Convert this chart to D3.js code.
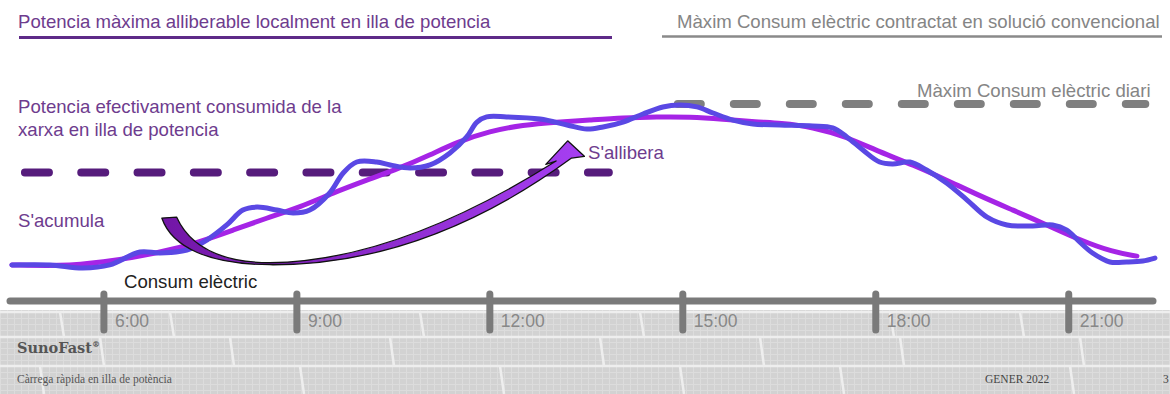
<!DOCTYPE html>
<html><head><meta charset="utf-8">
<script src="https://cdn.jsdelivr.net/npm/d3@7"></script>
<style>html,body{margin:0;padding:0;background:#fff;}svg{display:block;}</style>
</head><body>
<svg id="c" width="1170" height="394"></svg>
<script>
// ---- data (hours of day, relative power in % of daily max) ----
const tickHours = [6, 9, 12, 15, 18, 21];
const tickLabels = ["6:00", "9:00", "12:00", "15:00", "18:00", "21:00"];
const hourDomain = [4.54, 22.31];
const valueDomain = [0, 100];

// actual consumption (wavy)
const consumHours = [4.57,5.16,5.67,6.09,6.56,6.87,7.29,7.60,7.91,8.16,8.38,8.69,8.94,9.20,9.51,9.72,9.93,10.24,10.45,10.76,11.07,11.38,11.64,11.80,11.95,12.26,12.78,13.20,13.51,13.76,14.07,14.38,14.69,14.95,15.22,15.47,15.78,16.09,16.51,17.02,17.33,17.55,17.80,18.06,18.26,18.53,18.79,19.10,19.42,19.73,20.04,20.44,20.75,20.97,21.17,21.37,21.64,21.90,22.15,22.34];
const consumValues = [17.9,17.9,16.3,17.9,24.5,24.0,25.5,30.6,38.3,45.9,47.4,45.9,44.4,45.9,54.6,64.8,70.4,70.4,68.9,67.3,68.9,75.0,83.2,90.8,93.4,93.4,92.3,89.3,87.2,88.3,90.8,94.9,98.5,99.5,98.5,95.4,91.8,89.8,89.3,88.8,87.8,83.2,76.5,70.4,69.4,70.4,66.3,59.7,51.0,42.3,38.3,37.8,38.3,35.7,29.6,24.0,19.4,19.4,19.9,21.4];

// smoothed trend (magenta)
const trendHours = [4.57,5.32,5.94,6.87,7.49,8.01,8.53,9.05,9.56,10.09,10.60,11.07,11.49,12.00,12.51,13.04,13.55,14.07,14.60,15.11,15.62,16.15,16.51,17.02,17.55,18.06,18.58,19.10,19.62,20.13,20.66,21.17,21.68,22.06];
const trendValues = [17.9,17.3,18.9,24.0,29.6,35.7,41.8,47.4,54.6,61.2,67.3,74.0,80.6,86.2,89.3,90.8,91.8,92.9,93.4,93.4,92.3,90.8,90.3,88.3,83.2,75.5,68.9,61.2,53.1,45.9,38.3,30.6,24.5,22.4];

// reference levels: [startHour, endHour, value]
const islandLimit = [4.71, 13.85, 65];
const dailyMax = [14.86, 22.19, 100];

// curved arrow (annotation) outline in [hour, value]
const arrowOuter = [[6.90,41.8],[7.06,26.5],[7.65,18.2],[8.58,18.0],[10.29,17.6],[11.84,38.0],[13.27,72.4]];
const arrowHead = [[13.47,73.3],[13.21,81.2],[12.87,69.2],[13.03,70.9]];
const arrowInner = [[11.69,43.2],[10.13,19.6],[8.58,19.0],[7.80,19.2],[7.34,27.0],[7.13,42.3]];

// ---- drawing ----
const svg = d3.select("#c");
const x = d3.scaleLinear().domain(hourDomain).range([10, 1153]);
const y = d3.scaleLinear().domain(valueDomain).range([300, 104]);
const F = "'Liberation Sans', Arial, sans-serif";
const FS = 18.6;
const purpleText = "#6e3c8e";

// footer background (solar panels)
const defs = svg.append("defs");
const pat = defs.append("pattern").attr("id","cells").attr("patternUnits","userSpaceOnUse")
  .attr("width",7).attr("height",6);
pat.append("rect").attr("width",7).attr("height",6).attr("fill","#d2d2d2");
pat.append("path").attr("d","M0,0.5H7M0.5,0V6").attr("stroke","#dcdcdc").attr("stroke-width",1);
svg.append("rect").attr("x",0).attr("y",310).attr("width",1170).attr("height",84).attr("fill","url(#cells)");
const gaps = svg.append("g").attr("stroke","#eeeeee").attr("stroke-width",2.5);
[312, 337, 366].forEach(gy => gaps.append("line").attr("x1",0).attr("x2",1170).attr("y1",gy).attr("y2",gy));
const vgaps = [[[60,312,337],[170,312,337],[420,312,337],[640,312,337],[890,312,337],[1020,312,337]],
  [[100,337,366],[230,337,366],[390,337,366],[600,337,366],[760,337,366],[900,337,366],[1080,337,366]],
  [[40,366,394],[300,366,394],[500,366,394],[680,366,394],[840,366,394],[1070,366,394]]];
vgaps.flat().forEach(v => gaps.append("line").attr("x1",v[0]).attr("x2",v[0]+4).attr("y1",v[1]).attr("y2",v[2]));

// axis
svg.append("line").attr("x1",x(hourDomain[0])).attr("x2",x(hourDomain[1])).attr("y1",301).attr("y2",301)
  .attr("stroke","#7a7a7a").attr("stroke-width",7).attr("stroke-linecap","round");
const tk = svg.append("g");
tk.selectAll("line").data(tickHours).join("line")
  .attr("x1",d=>x(d)).attr("x2",d=>x(d)).attr("y1",294).attr("y2",330)
  .attr("stroke","#7a7a7a").attr("stroke-width",7).attr("stroke-linecap","round");
tk.selectAll("text").data(tickHours).join("text")
  .attr("x",d=>x(d)+11).attr("y",327).text((d,i)=>tickLabels[i])
  .attr("font-family",F).attr("font-size",17.5).attr("fill","#888");

// top legend
svg.append("text").attr("x",18).attr("y",28).text("Potencia màxima alliberable localment en illa de potencia")
  .attr("font-family",F).attr("font-size",FS).attr("fill",purpleText);
svg.append("line").attr("x1",19).attr("x2",612).attr("y1",37.5).attr("y2",37.5).attr("stroke","#5e2a88").attr("stroke-width",3);
svg.append("text").attr("x",677).attr("y",28).text("Màxim Consum elèctric contractat en solució convencional")
  .attr("font-family",F).attr("font-size",FS).attr("fill","#858585");
svg.append("line").attr("x1",662).attr("x2",1162).attr("y1",36.5).attr("y2",36.5).attr("stroke","#8a8a8a").attr("stroke-width",2.5);

// labels
const t2 = svg.append("text").attr("font-family",F).attr("font-size",FS).attr("fill",purpleText);
t2.append("tspan").attr("x",18).attr("y",113).text("Potencia efectivament consumida de la");
t2.append("tspan").attr("x",18).attr("y",136).text("xarxa en illa de potencia");
svg.append("text").attr("x",18).attr("y",227).text("S'acumula").attr("font-family",F).attr("font-size",FS).attr("fill",purpleText);
svg.append("text").attr("x",588).attr("y",159).text("S'allibera").attr("font-family",F).attr("font-size",FS).attr("fill",purpleText);
svg.append("text").attr("x",124).attr("y",288).text("Consum elèctric").attr("font-family",F).attr("font-size",FS).attr("fill","#222");
svg.append("text").attr("x",917).attr("y",97).text("Màxim Consum elèctric diari").attr("font-family",F).attr("font-size",FS).attr("fill","#858585");

// reference dashed lines
svg.append("line").attr("x1",x(islandLimit[0])+4).attr("x2",x(islandLimit[1])).attr("y1",y(islandLimit[2])).attr("y2",y(islandLimit[2]))
  .attr("stroke","#561c7c").attr("stroke-width",8).attr("stroke-linecap","round").attr("stroke-dasharray","24,32.3");
svg.append("line").attr("x1",x(dailyMax[0])+4).attr("x2",x(dailyMax[1])).attr("y1",y(dailyMax[2])).attr("y2",y(dailyMax[2]))
  .attr("stroke","#7f7f7f").attr("stroke-width",8).attr("stroke-linecap","round").attr("stroke-dasharray","23,33");

// curves
const trend = trendHours.map((h,i)=>[h,trendValues[i]]);
const consum = consumHours.map((h,i)=>[h,consumValues[i]]);
const lineGen = d3.line().x(d=>x(d[0])).y(d=>y(d[1]));
svg.append("path").attr("d",lineGen.curve(d3.curveBasis)(trend)).attr("fill","none")
  .attr("stroke","#a524e6").attr("stroke-width",5).attr("stroke-linecap","round");
svg.append("path").attr("d",lineGen.curve(d3.curveCatmullRom.alpha(0.5))(consum)).attr("fill","none")
  .attr("stroke","#5a48e4").attr("stroke-width",5).attr("stroke-linecap","round").attr("stroke-linejoin","round");

// curved arrow
const grad = defs.append("linearGradient").attr("id","ag").attr("x1","0").attr("x2","1").attr("y1","0").attr("y2","0");
grad.append("stop").attr("offset","0").attr("stop-color","#7216a6");
grad.append("stop").attr("offset","1").attr("stop-color","#a63ff2");
const P = d => [x(d[0]), y(d[1])];
const o = arrowOuter.map(P), hd = arrowHead.map(P), n = arrowInner.map(P);
const ap = d3.path();
ap.moveTo(...o[0]);
ap.bezierCurveTo(...o[1], ...o[2], ...o[3]);
ap.bezierCurveTo(...o[4], ...o[5], ...o[6]);
hd.forEach(p => ap.lineTo(...p));
ap.bezierCurveTo(...n[0], ...n[1], ...n[2]);
ap.bezierCurveTo(...n[3], ...n[4], ...n[5]);
ap.closePath();
svg.append("path").attr("d",ap.toString()).attr("fill","url(#ag)").attr("stroke","#111").attr("stroke-width",1.3).attr("stroke-linejoin","round");

// footer texts
svg.append("text").attr("x",17).attr("y",353).text("SunoFast").attr("font-family","'DejaVu Serif', serif").attr("font-weight","bold")
  .attr("font-size",14.5).attr("fill","#555").append("tspan").attr("dy",-6).attr("font-size",8).text("®");
svg.append("text").attr("x",17).attr("y",383).text("Càrrega ràpida en illa de potència").attr("font-family","'Liberation Serif', serif")
  .attr("font-size",11.5).attr("fill","#555");
svg.append("text").attr("x",985).attr("y",383).text("GENER 2022").attr("font-family","'Liberation Serif', serif")
  .attr("font-size",11.5).attr("fill","#444");
svg.append("text").attr("x",1163).attr("y",383).text("3").attr("font-family","'Liberation Serif', serif")
  .attr("font-size",11.5).attr("fill","#444");
</script>
</body></html>
